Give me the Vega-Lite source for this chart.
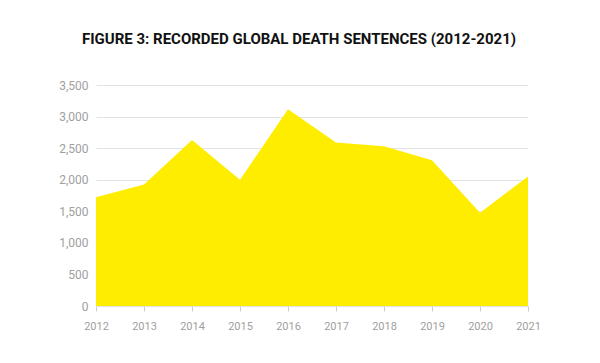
{
  "$schema": "https://vega.github.io/schema/vega-lite/v6.json",
  "width": 432,
  "height": 221,
  "autosize": {"type": "none"},
  "padding": {"left": 96, "top": 85, "right": 72, "bottom": 57},
  "background": "white",
  "title": {
    "text": "FIGURE 3: RECORDED GLOBAL DEATH SENTENCES (2012-2021)",
    "font": "Roboto, sans-serif",
    "fontSize": 15,
    "fontWeight": "bold",
    "color": "#111111",
    "anchor": "middle",
    "offset": 32,
    "dx": -13
  },
  "data": {
    "values": [
      {"year": 2012, "sentences": 1722},
      {"year": 2013, "sentences": 1925},
      {"year": 2014, "sentences": 2630},
      {"year": 2015, "sentences": 1998},
      {"year": 2016, "sentences": 3117},
      {"year": 2017, "sentences": 2591},
      {"year": 2018, "sentences": 2531},
      {"year": 2019, "sentences": 2307},
      {"year": 2020, "sentences": 1477},
      {"year": 2021, "sentences": 2052}
    ]
  },
  "layer": [
    {
      "mark": {"type": "area", "color": "#FFED00", "opacity": 1},
      "encoding": {
        "x": {
          "field": "year",
          "type": "quantitative",
          "scale": {"domain": [2012, 2021], "nice": false, "zero": false},
          "axis": {
            "title": null,
            "format": "d",
            "values": [2012, 2013, 2014, 2015, 2016, 2017, 2018, 2019, 2020, 2021],
            "domain": false,
            "grid": false,
            "ticks": true,
            "tickSize": 5,
            "tickColor": "#cccccc",
            "labelColor": "#a0a0a0",
            "labelFont": "Roboto, sans-serif",
            "labelFontSize": 11,
            "labelPadding": 9,
            "labelFlush": false,
            "labelOverlap": false
          }
        },
        "y": {
          "field": "sentences",
          "type": "quantitative",
          "scale": {"domain": [0, 3500], "nice": false},
          "axis": {
            "title": null,
            "values": [0, 500, 1000, 1500, 2000, 2500, 3000, 3500],
            "format": ",d",
            "domain": false,
            "ticks": false,
            "grid": true,
            "gridColor": "#e2e2e2",
            "gridWidth": 1,
            "labelColor": "#a0a0a0",
            "labelFont": "Roboto, sans-serif",
            "labelFontSize": 12,
            "labelPadding": 8
          }
        }
      }
    }
  ],
  "config": {"view": {"stroke": null}}
}
